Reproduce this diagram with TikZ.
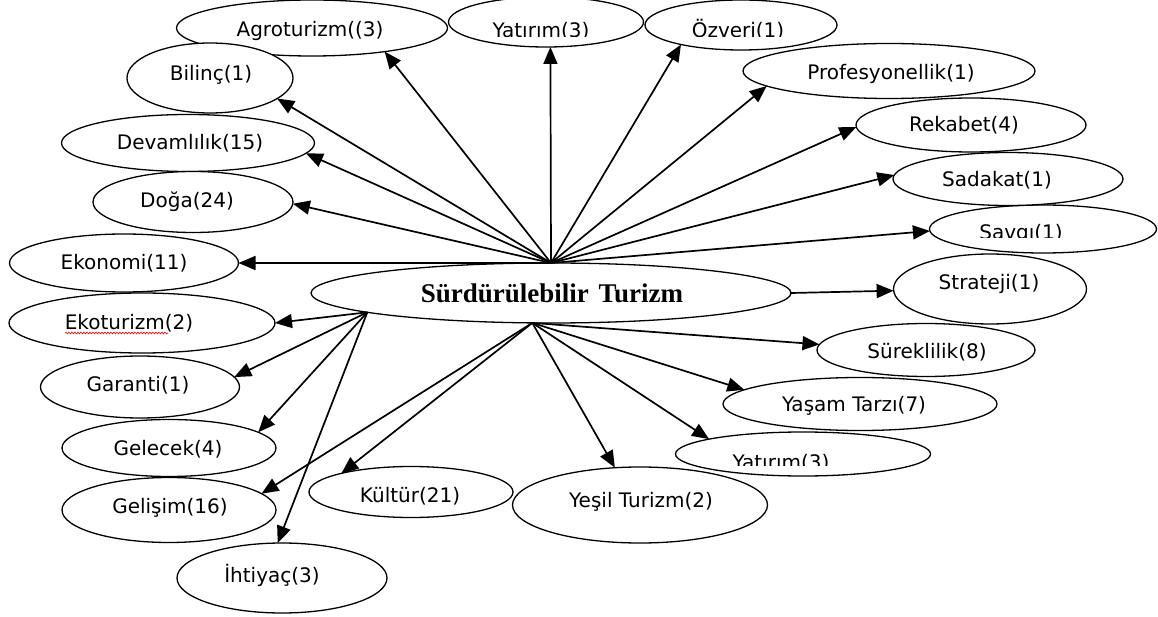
\documentclass[tikz,border=0pt]{standalone}
\usepackage{fontspec}
\setmainfont{DejaVu Sans}
\newfontfamily\ctrfont{Liberation Serif}
\usetikzlibrary{arrows.meta,shapes.geometric,decorations.pathmorphing}
\begin{document}
\begin{tikzpicture}[x=1pt,y=-1pt,
  ell/.style={ellipse,draw=black,line width=1.3pt,fill=white,inner sep=0pt,outer sep=0pt},
  lbl/.style={anchor=base,inner sep=0pt,font=\fontsize{20}{24}\selectfont},
  arr/.style={line width=1.7pt,-{Triangle[length=17pt,width=14pt]}},
  wavy/.style={draw=red,line width=0.6pt,decorate,decoration={snake,amplitude=0.9pt,segment length=3pt}}
]
\useasboundingbox (0,0) rectangle (1158,617);
\fill[white] (0,0) rectangle (1158,617);

% ellipses
\node[ell,minimum width=271pt,minimum height=56pt] (agro) at (312,28) {};
\node[ell,minimum width=195pt,minimum height=50pt] (yatA) at (546,22) {};
\node[ell,minimum width=192pt,minimum height=50pt] (ozv) at (741,25) {};
\node[ell,minimum width=292pt,minimum height=55pt] (prof) at (889,71) {};
\node[ell,minimum width=166pt,minimum height=70pt] (bil) at (210,78) {};
\node[ell,minimum width=253pt,minimum height=57pt] (dev) at (188,143) {};
\node[ell,minimum width=200pt,minimum height=61pt] (doga) at (193,202) {};
\node[ell,minimum width=229pt,minimum height=58pt] (eko) at (124,263) {};
\node[ell,minimum width=266pt,minimum height=60pt] (ekot) at (142,323) {};
\node[ell,minimum width=199pt,minimum height=62pt] (gar) at (140,387) {};
\node[ell,minimum width=214pt,minimum height=57pt] (gel) at (169,448) {};
\node[ell,minimum width=214pt,minimum height=65pt] (gels) at (169,510) {};
\node[ell,minimum width=210pt,minimum height=70pt] (iht) at (282,578) {};
\node[ell,minimum width=204pt,minimum height=51pt] (kul) at (411,492) {};
\node[ell,minimum width=255pt,minimum height=76pt] (yes) at (640,505) {};
\node[ell,minimum width=255pt,minimum height=44pt] (yatB) at (803,454) {};
\node[ell,minimum width=274pt,minimum height=53pt] (yas) at (860,404) {};
\node[ell,minimum width=218pt,minimum height=53pt] (sur) at (926,350) {};
\node[ell,minimum width=193pt,minimum height=70pt] (str) at (990,289) {};
\node[ell,minimum width=227pt,minimum height=48pt] (sav) at (1043,229) {};
\node[ell,minimum width=230pt,minimum height=53pt] (sad) at (1008,179) {};
\node[ell,minimum width=230pt,minimum height=54pt] (rek) at (971,125) {};
\node[ell,minimum width=480pt,minimum height=60pt] (st) at (551,293) {};

% labels
\node[lbl] at (310,37) {Agroturizm((3)};
\begin{scope}
  \clip (440,0) rectangle (650,37);
  \node[lbl] at (541,38) {Yatırım(3)};
\end{scope}
\begin{scope}
  \clip (640,0) rectangle (840,37);
  \node[lbl] at (738,38) {Özveri(1)};
\end{scope}
\node[lbl] at (891,80) {Profesyonellik(1)};
\node[lbl] at (211,81) {Bilinç(1)};
\node[lbl] at (190,150) {Devamlılık(15)};
\node[lbl] at (187,208) {Doğa(24)};
\node[lbl] at (124,270) {Ekonomi(11)};
\node[lbl] at (129,330) {Ekoturizm(2)};
\draw[wavy] (65,333) -- (168,333);
\node[lbl] at (138,391) {Garanti(1)};
\node[lbl] at (168,455) {Gelecek(4)};
\node[lbl] at (170,513) {Gelişim(16)};
\node[lbl] at (272,582) {İhtiyaç(3)};
\node[lbl] at (410,502) {Kültür(21)};
\node[lbl] at (641,507) {Yeşil Turizm(2)};
\begin{scope}
  \clip (676,430) rectangle (931,465);
  \node[lbl] at (781,469) {Yatırım(3)};
\end{scope}
\node[lbl] at (854,411) {Yaşam Tarzı(7)};
\node[lbl] at (927,358) {Süreklilik(8)};
\node[lbl] at (989,290) {Strateji(1)};
\begin{scope}
  \clip (930,200) rectangle (1158,238);
  \node[lbl] at (1021,240) {Savgı(1)};
\end{scope}
\node[lbl] at (997,187) {Sadakat(1)};
\node[lbl] at (964,132) {Rekabet(4)};
\node[anchor=base,inner sep=0pt,font=\ctrfont\bfseries\fontsize{27}{30}\selectfont] at (552,302) {Sürdürülebilir\hspace{3pt} Turizm};

% hubs
\coordinate (hT) at (st.north);
\coordinate (hL) at (st.186.5);
\coordinate (hB) at (st.238);
\coordinate (hR) at (st.east);

% connectors
\draw[arr] (hT) -- (bil.343);
\draw[arr] (hT) -- (agro.342);
\draw[arr] (hT) -- (yatA.280);
\draw[arr] (hT) -- (ozv.198);
\draw[arr] (hT) -- (prof.187);
\draw[arr] (hT) -- (rek.181);
\draw[arr] (hT) -- (sad.178);
\draw[arr] (hT) -- (sav.181.5);
\draw[arr] (hT) -- (dev.355);
\draw[arr] (hT) -- (doga.359);
\draw[arr] (hT) -- (eko.0);
\draw[arr] (hR) -- (str.181);
\draw[arr] (hL) -- (ekot.0);
\draw[arr] (hL) -- (gar.6);
\draw[arr] (hL) -- (gel.10);
\draw[arr] (hL) -- (iht.97);
\draw[arr] (hB) -- (gels.10);
\draw[arr] (hB) -- (kul.165);
\draw[arr] (hB) -- (yes.124);
\draw[arr] (hB) -- (yatB.171);
\draw[arr] (hB) -- (yas.173);
\draw[arr] (hB) -- (sur.177);
\end{tikzpicture}
\end{document}
